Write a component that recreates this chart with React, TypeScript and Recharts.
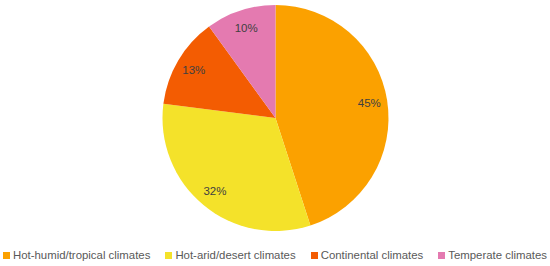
import { PieChart, Pie, Cell, Legend } from 'recharts'

const categories = [
  'Hot-humid/tropical climates',
  'Hot-arid/desert climates',
  'Continental climates',
  'Temperate climates',
]
const shares = [45, 32, 13, 10]
const colors = ['#FBA100', '#F4E22A', '#F35C02', '#E47AB0']

const data = categories.map((name, i) => ({ name, value: shares[i] }))

const RADIAN = Math.PI / 180
const FONT = '"Liberation Sans", Arial, sans-serif'

function renderLabel(props: any) {
  const { cx, cy, midAngle, outerRadius, value } = props
  const r = outerRadius * 0.84
  const x = cx + r * Math.cos(-midAngle * RADIAN)
  const y = cy + r * Math.sin(-midAngle * RADIAN)
  return (
    <text
      x={x}
      y={y}
      fill="#404040"
      fontSize={11.5}
      fontFamily={FONT}
      textAnchor="middle"
      dominantBaseline="central"
    >
      {`${value}%`}
    </text>
  )
}

function renderLegend() {
  return (
    <div
      style={{
        display: 'flex',
        justifyContent: 'center',
        gap: 15,
        fontFamily: FONT,
        fontSize: 11.4,
        color: '#595959',
        whiteSpace: 'nowrap',
      }}
    >
      {categories.map((c, i) => (
        <span key={c} style={{ display: 'flex', alignItems: 'center' }}>
          <span
            style={{
              display: 'inline-block',
              width: 7,
              height: 7,
              background: colors[i],
              marginRight: 3,
            }}
          />
          {c}
        </span>
      ))}
    </div>
  )
}

export default function App() {
  return (
    <div style={{ position: 'absolute', left: 0, top: 0, width: 550, height: 266, background: '#fff' }}>
      <PieChart width={550} height={266} margin={{ top: 0, right: 0, bottom: 0, left: 0 }}>
        <Pie
          data={data}
          dataKey="value"
          cx={275.5}
          cy={118}
          outerRadius={113}
          startAngle={90}
          endAngle={-270}
          stroke="none"
          label={renderLabel}
          labelLine={false}
          isAnimationActive={false}
        >
          {data.map((d, i) => (
            <Cell key={d.name} fill={colors[i]} />
          ))}
        </Pie>
        <Legend
          content={renderLegend}
          verticalAlign="bottom"
          wrapperStyle={{ left: 0, width: 550, top: 249 }}
        />
      </PieChart>
    </div>
  )
}
